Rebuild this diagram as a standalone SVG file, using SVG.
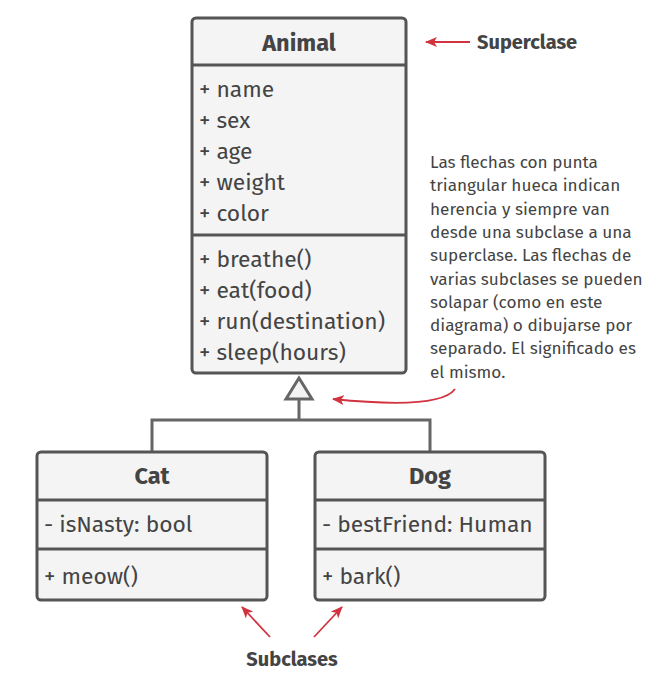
<svg xmlns="http://www.w3.org/2000/svg" width="664" height="674" viewBox="0 0 664 674">
<defs>
<style>
.box{fill:#f4f4f4;stroke:#555;stroke-width:3}
.div{stroke:#555;stroke-width:3;fill:none}
.t{font-family:"Fira Sans","Open Sans","Noto Sans",sans-serif;fill:#444;font-size:22.8px}
.h{font-family:"Fira Sans","Open Sans","Noto Sans",sans-serif;fill:#444;font-size:23.5px;font-weight:bold;text-anchor:middle}
.n{font-family:"Fira Sans","Open Sans","Noto Sans",sans-serif;fill:#444;font-size:17.2px}
.lbl{font-family:"Fira Sans","Open Sans","Noto Sans",sans-serif;fill:#444;font-size:20px;font-weight:bold}
.conn{stroke:#666;stroke-width:3;fill:none}
.red{stroke:#d1343f;stroke-width:1.8;fill:none}
</style>
<marker id="ra" viewBox="0 0 12 10" refX="11" refY="5" markerWidth="12" markerHeight="10" markerUnits="userSpaceOnUse" orient="auto">
<path d="M0,0 L12,5 L0,10 L3,5 Z" fill="#d1343f"/>
</marker>
</defs>
<g id="connectors">
<path class="conn" d="M299,400 V420 M152,452 V420 H430 V452"/>
<path d="M299,378 L286,399 L312,399 Z" fill="#f4f4f4" stroke="#666" stroke-width="3" stroke-linejoin="miter"/>
</g>
<g id="animal">
<rect class="box" x="192" y="18" width="214" height="355" rx="4"/>
<line class="div" x1="192" y1="65" x2="406" y2="65"/>
<line class="div" x1="192" y1="235" x2="406" y2="235"/>
<text class="h" x="299" y="51">Animal</text>
<text class="t" x="199" y="97">+ name</text>
<text class="t" x="199" y="128">+ sex</text>
<text class="t" x="199" y="159">+ age</text>
<text class="t" x="199" y="190">+ weight</text>
<text class="t" x="199" y="221">+ color</text>
<text class="t" x="199" y="267">+ breathe()</text>
<text class="t" x="199" y="298">+ eat(food)</text>
<text class="t" x="199" y="329">+ run(destination)</text>
<text class="t" x="199" y="360">+ sleep(hours)</text>
</g>
<g id="cat">
<rect class="box" x="37" y="452" width="230" height="148" rx="4"/>
<line class="div" x1="37" y1="500" x2="267" y2="500"/>
<line class="div" x1="37" y1="549" x2="267" y2="549"/>
<text class="h" x="152" y="484">Cat</text>
<text class="t" x="44" y="532">- isNasty: bool</text>
<text class="t" x="44" y="584">+ meow()</text>
</g>
<g id="dog">
<rect class="box" x="315" y="452" width="230" height="148" rx="4"/>
<line class="div" x1="315" y1="500" x2="545" y2="500"/>
<line class="div" x1="315" y1="549" x2="545" y2="549"/>
<text class="h" x="430" y="484">Dog</text>
<text class="t" x="322" y="532">- bestFriend: Human</text>
<text class="t" x="322" y="584">+ bark()</text>
</g>
<g id="annotations">
<line class="red" x1="470" y1="42" x2="426" y2="42" marker-end="url(#ra)"/>
<text class="lbl" x="477" y="49">Superclase</text>
<line class="red" x1="270" y1="637" x2="242" y2="607" marker-end="url(#ra)"/>
<line class="red" x1="314" y1="637" x2="342" y2="607" marker-end="url(#ra)"/>
<text class="lbl" x="292" y="666" text-anchor="middle">Subclases</text>
<path class="red" d="M455,389 Q440,410 333,399" marker-end="url(#ra)"/>
<text class="n">
<tspan x="430" y="168">Las flechas con punta</tspan>
<tspan x="430" y="191.3">triangular hueca indican</tspan>
<tspan x="430" y="214.6">herencia y siempre van</tspan>
<tspan x="430" y="237.9">desde una subclase a una</tspan>
<tspan x="430" y="261.2">superclase. Las flechas de</tspan>
<tspan x="430" y="284.5">varias subclases se pueden</tspan>
<tspan x="430" y="307.8">solapar (como en este</tspan>
<tspan x="430" y="331.1">diagrama) o dibujarse por</tspan>
<tspan x="430" y="354.4">separado. El significado es</tspan>
<tspan x="430" y="377.7">el mismo.</tspan>
</text>
</g>
</svg>
